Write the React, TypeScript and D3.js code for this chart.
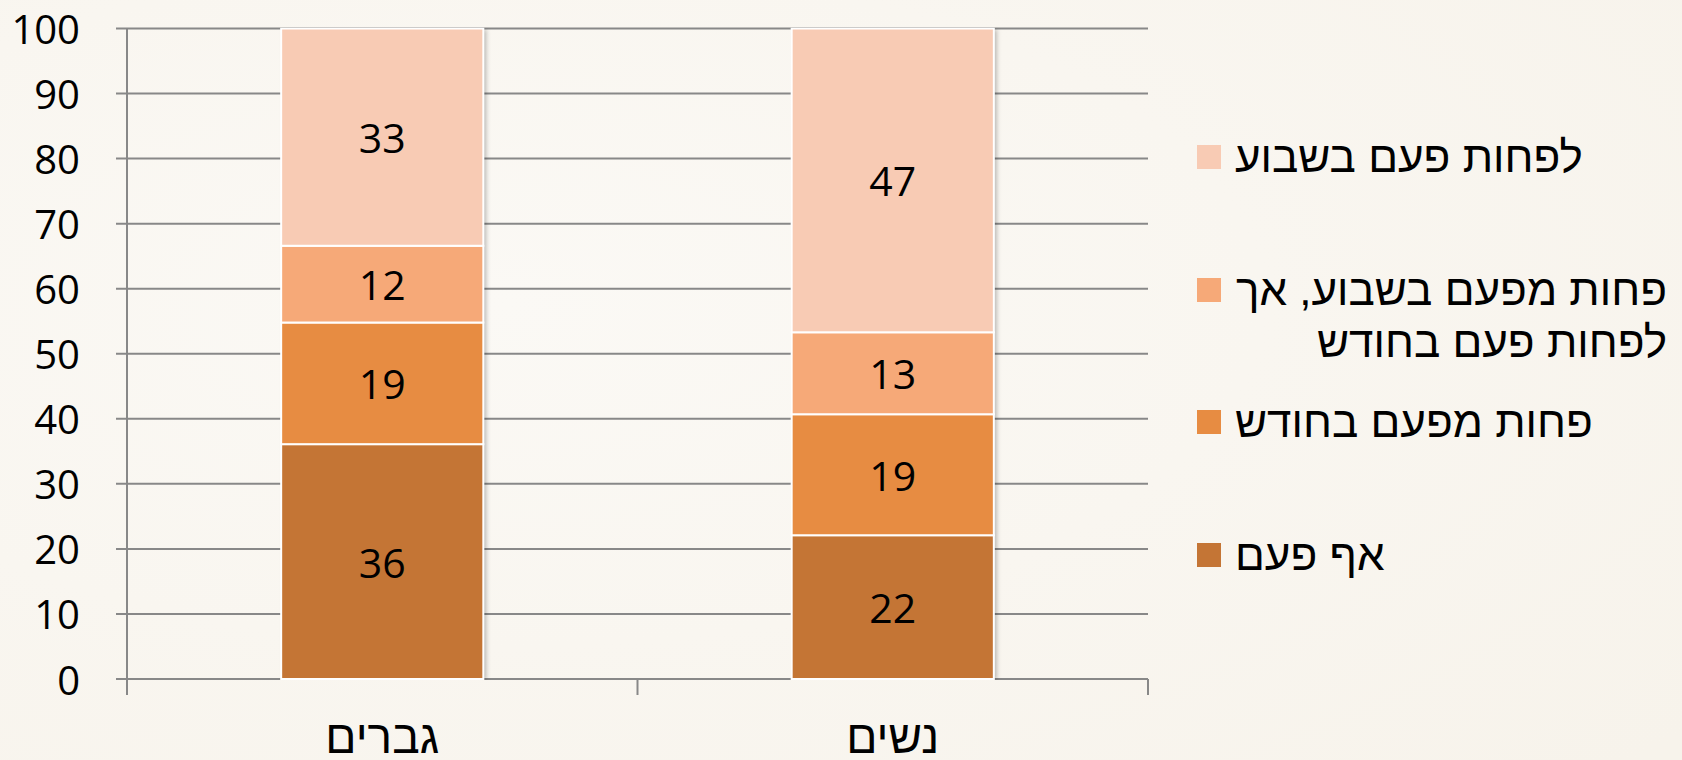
import React from "react";
import * as d3 from "d3";

const categories = ["גברים", "נשים"];
const seriesNames = [
  "אף פעם",
  "פחות מפעם בחודש",
  "פחות מפעם בשבוע, אך לפחות פעם בחודש",
  "לפחות פעם בשבוע",
];
const legendLines = [
  ["אף פעם"],
  ["פחות מפעם בחודש"],
  ["פחות מפעם בשבוע, אך", "לפחות פעם בחודש"],
  ["לפחות פעם בשבוע"],
];
const neverValues = [36.1, 22.1];
const lessMonthValues = [18.7, 18.6];
const monthlyValues = [11.8, 12.6];
const weeklyValues = [33.4, 46.7];
const yTicks = [0, 10, 20, 30, 40, 50, 60, 70, 80, 90, 100];
const colors = ["#C47535", "#E78C42", "#F6A978", "#F8CBB4"];

const W = 1682;
const H = 760;
const plot = { left: 127, right: 1148, top: 28.5, bottom: 679 };
const FONT = "'Open Sans', 'DejaVu Sans', sans-serif";
const HEB = "'Liberation Sans', sans-serif";

export default function App() {
  const series = [neverValues, lessMonthValues, monthlyValues, weeklyValues];
  const x = d3
    .scaleBand<string>()
    .domain(categories)
    .range([plot.left, plot.right])
    .paddingInner(0.604)
    .paddingOuter(0.302);
  const y = d3.scaleLinear().domain([0, 100]).range([plot.bottom, plot.top]);

  const rows = categories.map((c, i) => {
    const o: any = { cat: c };
    seriesNames.forEach((s, j) => (o[s] = series[j][i]));
    return o;
  });
  const stacked = d3.stack<any>().keys(seriesNames)(rows);

  const legendY = [554, 421, 289, 156];

  return (
    <svg
      width={W}
      height={H}
      style={{ position: "fixed", left: 0, top: 0, background: "#FAF8F3" }}
      fontFamily={FONT}
    >
      <defs>
        <filter id="sh" x="-10%" y="-5%" width="120%" height="110%">
          <feDropShadow dx="3" dy="1" stdDeviation="2" floodColor="#000" floodOpacity="0.25" />
        </filter>
        <radialGradient id="bg" cx="0.3" cy="0.4" r="0.9">
          <stop offset="0" stopColor="#FBF9F5" />
          <stop offset="1" stopColor="#F7F3EB" />
        </radialGradient>
        <clipPath id="clip">
          <rect x={0} y={plot.top - 1} width={W} height={plot.bottom - plot.top + 2} />
        </clipPath>
      </defs>
      <rect x={0} y={0} width={W} height={H} fill="url(#bg)" />

      {/* gridlines */}
      {yTicks.map((t) => (
        <line
          key={t}
          x1={plot.left - 11}
          x2={plot.right}
          y1={y(t)}
          y2={y(t)}
          stroke="#888"
          strokeWidth={2}
        />
      ))}
      {/* axis */}
      <line x1={plot.left} x2={plot.left} y1={plot.top} y2={plot.bottom + 16} stroke="#888" strokeWidth={2} />
      {[1, 2].map((i) => {
        const xx = plot.left + ((plot.right - plot.left) / categories.length) * i;
        return (
          <line key={i} x1={xx} x2={xx} y1={plot.bottom} y2={plot.bottom + 16} stroke="#888" strokeWidth={2} />
        );
      })}
      {yTicks.map((t) => (
        <text
          key={t}
          x={80}
          y={y(t)}
          textAnchor="end"
          dominantBaseline="central"
          fontSize={40}
          fill="#000"
        >
          {t}
        </text>
      ))}

      {/* bars */}
      <g clipPath="url(#clip)">
        {categories.map((c) => (
          <rect
            key={"s" + c}
            x={x(c)!}
            y={y(100)}
            width={x.bandwidth()}
            height={y(0) - y(100)}
            fill="#fff"
            filter="url(#sh)"
          />
        ))}
        {stacked.map((layer, j) =>
          layer.map((d, i) => (
            <rect
              key={j + "-" + i}
              x={x(categories[i])!}
              y={y(Math.min(100, d[1]))}
              width={x.bandwidth()}
              height={y(d[0]) - y(Math.min(100, d[1]))}
              fill={colors[j]}
              stroke="#fff"
              strokeWidth={2}
            />
          ))
        )}
      </g>
      {stacked.map((layer, j) =>
        layer.map((d, i) => (
          <text
            key={"l" + j + "-" + i}
            x={x(categories[i])! + x.bandwidth() / 2}
            y={(y(d[0]) + y(Math.min(100, d[1]))) / 2}
            textAnchor="middle"
            dominantBaseline="central"
            fontSize={41}
            fill="#000"
          >
            {Math.round(d[1] - d[0])}
          </text>
        ))
      )}

      {/* category labels */}
      {categories.map((c) => (
        <text
          key={"c" + c}
          x={x(c)! + x.bandwidth() / 2}
          y={753}
          textAnchor="middle"
          fontSize={46}
          fontFamily={HEB}
          fill="#000"
        >
          {c}
        </text>
      ))}

      {/* legend */}
      {legendLines.map((lines, j) => {
        const cy = legendY[j];
        const multi = lines.length > 1;
        return (
          <g key={"lg" + j}>
            <rect x={1197} y={cy - 11} width={24} height={24} fill={colors[j]} />
            {lines.map((ln, k) => (
              <text
                key={k}
                x={multi ? 1667 : 1235}
                y={cy + k * 52}
                textAnchor={multi ? "end" : "start"}
                dominantBaseline="central"
                fontSize={44}
                fontFamily={HEB}
                fill="#000"
              >
                {ln}
              </text>
            ))}
          </g>
        );
      })}
    </svg>
  );
}
